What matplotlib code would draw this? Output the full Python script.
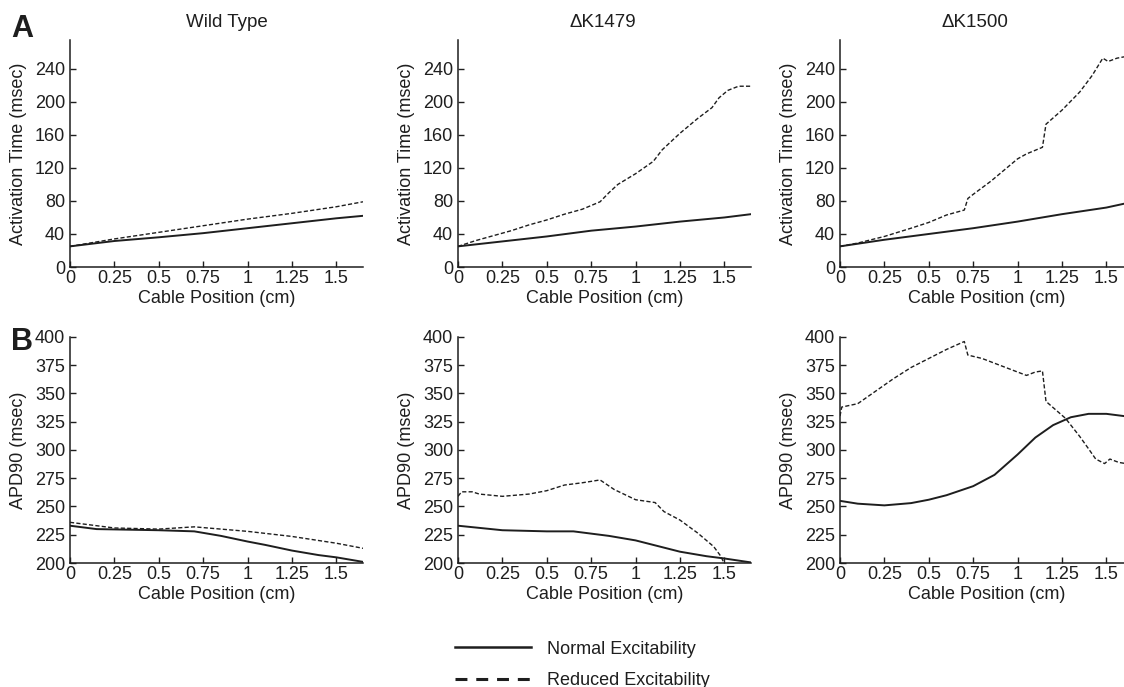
import matplotlib
matplotlib.use('Agg')
import matplotlib.pyplot as plt
from matplotlib.lines import Line2D

plt.rcParams['font.family'] = ['Liberation Sans', 'DejaVu Sans']
plt.rcParams['font.size'] = 13

cor = '#1e1e1e'

# Tempo de ativação (msec) - Wild Type
at_wt_x = [0, 0.25, 0.5, 0.75, 1.0, 1.25, 1.5, 1.65]
at_wt_norm = [25, 31.5, 36, 41, 47, 53, 59, 62]
at_wt_red = [25, 34, 42, 50, 58, 65, 73, 79]

# Tempo de ativação - dK1479
at_1479_x_norm = [0, 0.25, 0.5, 0.75, 1.0, 1.25, 1.5, 1.65]
at_1479_norm = [25, 31, 37, 44, 49, 55, 60, 64]
at_1479_x_red = [0, 0.1, 0.2, 0.3, 0.4, 0.5, 0.6, 0.7, 0.8, 0.85, 0.9, 1.0, 1.1,
                 1.15, 1.25, 1.35, 1.43, 1.47, 1.52, 1.58, 1.65]
at_1479_red = [25, 32, 38, 44, 51, 57, 64, 70, 79, 90, 100, 113, 128,
               142, 162, 180, 193, 205, 214, 219, 219]

# Tempo de ativação - dK1500
at_1500_x_norm = [0, 0.25, 0.5, 0.75, 1.0, 1.25, 1.5, 1.65]
at_1500_norm = [25, 33, 40, 47, 55, 64, 72, 79]
at_1500_x_red = [0, 0.1, 0.25, 0.4, 0.5, 0.6, 0.7, 0.72, 0.75, 0.85, 0.95, 1.0, 1.05,
                 1.14, 1.16, 1.25, 1.35, 1.42, 1.48, 1.51, 1.56, 1.61, 1.65]
at_1500_red = [25, 29, 37, 47, 54, 63, 69, 83, 88, 104, 122, 131, 137,
               145, 173, 190, 212, 232, 253, 249, 253, 255, 255]

# APD90 (msec) - Wild Type
apd_wt_x_norm = [0, 0.15, 0.5, 0.7, 0.85, 1.0, 1.1, 1.25, 1.4, 1.5, 1.65]
apd_wt_norm = [233, 230, 229, 228, 224, 219, 216, 211, 207, 205, 201]
apd_wt_x_red = [0, 0.25, 0.5, 0.7, 0.85, 1.0, 1.25, 1.5, 1.65]
apd_wt_red = [236, 231, 230, 232, 230, 228, 223.5, 217.5, 213]

# APD90 - dK1479
apd_1479_x_norm = [0, 0.25, 0.5, 0.65, 0.85, 1.0, 1.1, 1.25, 1.4, 1.5, 1.65]
apd_1479_norm = [233, 229, 228, 228, 224, 220, 216, 210, 206, 204, 200.5]
apd_1479_x_red = [0, 0.02, 0.08, 0.12, 0.25, 0.4, 0.5, 0.6, 0.7, 0.8, 0.88, 1.0,
                  1.11, 1.16, 1.25, 1.35, 1.44, 1.48, 1.51]
apd_1479_red = [259, 263, 263, 261, 259, 261, 264, 269, 271, 273.5, 265, 256,
                253.5, 245.5, 238, 226.5, 214.5, 206, 196]

# APD90 - dK1500
apd_1500_x_norm = [0, 0.1, 0.25, 0.4, 0.5, 0.6, 0.75, 0.87, 1.0, 1.1, 1.2, 1.3,
                   1.4, 1.5, 1.6, 1.65]
apd_1500_norm = [255, 252.5, 251, 253, 256, 260, 268, 278, 296, 311, 322, 329,
                 332, 332, 330, 329]
apd_1500_x_red = [0, 0.01, 0.1, 0.2, 0.3, 0.4, 0.5, 0.6, 0.7, 0.72, 0.8, 0.9, 1.0,
                  1.05, 1.1, 1.14, 1.16, 1.27, 1.35, 1.4, 1.44, 1.49, 1.52, 1.57, 1.65]
apd_1500_red = [330, 338, 341, 352, 363, 373, 381, 389, 396, 384, 381, 375, 369,
                366, 369, 370, 343, 328, 312, 301, 292, 288, 292, 289, 287]

titulos = ['Wild Type', '\u0394K1479', '\u0394K1500']
titulo_x = [0.536, 0.495, 0.46]
xticks = [0, 0.25, 0.5, 0.75, 1.0, 1.25, 1.5]
xtick_labels = ['0', '0.25', '0.5', '0.75', '1', '1.25', '1.5']

topo = [
    (at_wt_x, at_wt_norm, at_wt_x, at_wt_red),
    (at_1479_x_norm, at_1479_norm, at_1479_x_red, at_1479_red),
    (at_1500_x_norm, at_1500_norm, at_1500_x_red, at_1500_red),
]
baixo = [
    (apd_wt_x_norm, apd_wt_norm, apd_wt_x_red, apd_wt_red),
    (apd_1479_x_norm, apd_1479_norm, apd_1479_x_red, apd_1479_red),
    (apd_1500_x_norm, apd_1500_norm, apd_1500_x_red, apd_1500_red),
]

W, H = 1124, 687
fig = plt.figure(figsize=(W / 100, H / 100), dpi=100)

lefts = [70, 458, 840]
largura = 293


def eixo(l, top, bot):
    ax = fig.add_axes([l / W, 1 - bot / H, largura / W, (bot - top) / H])
    for s in ['top', 'right']:
        ax.spines[s].set_visible(False)
    for s in ['left', 'bottom']:
        ax.spines[s].set_color(cor)
        ax.spines[s].set_linewidth(1.1)
    ax.tick_params(direction='in', length=4, width=1, colors=cor, labelsize=13)
    ax.tick_params(axis='x', pad=2)
    ax.set_xlim(0, 1.65)
    ax.set_xticks(xticks)
    ax.set_xticklabels(xtick_labels)
    ax.set_xlabel('Cable Position (cm)', fontsize=13, color=cor, labelpad=2)
    return ax


for i in range(3):
    ax = eixo(lefts[i], 40, 267)
    xn, yn, xr, yr = topo[i]
    ax.plot(xn, yn, color=cor, lw=1.4)
    ax.plot(xr, yr, color=cor, lw=1.0, dashes=(3, 1.6))
    ax.set_ylim(0, 275)
    ax.set_yticks(range(0, 241, 40))
    ax.set_ylabel('Activation Time (msec)', fontsize=13, color=cor, labelpad=6)
    ax.text(titulo_x[i], 1.04, titulos[i], transform=ax.transAxes,
            ha='center', va='bottom', fontsize=13.5, color=cor)

    ax = eixo(lefts[i], 337, 563)
    xn, yn, xr, yr = baixo[i]
    ax.plot(xn, yn, color=cor, lw=1.4)
    ax.plot(xr, yr, color=cor, lw=1.0, dashes=(3, 1.6))
    ax.set_ylim(200, 400)
    ax.set_yticks(range(200, 401, 25))
    ax.set_ylabel('APD90 (msec)', fontsize=13, color=cor, labelpad=6)

fig.text(11 / W, 1 - 37 / H, 'A', fontsize=22, fontweight='bold', color=cor, va='baseline')
fig.text(11 / W, 1 - 350 / H, 'B', fontsize=22, fontweight='bold', color=cor, va='baseline')

handles = [Line2D([], [], color=cor, lw=1.8),
           Line2D([], [], color=cor, lw=2.2, dashes=(3.9, 2.9))]
fig.legend(handles, ['Normal Excitability', 'Reduced Excitability'],
           loc='center left', bbox_to_anchor=(455 / W, 1 - 665 / H),
           frameon=False, handlelength=4.2, handletextpad=0.9,
           labelspacing=0.8, borderpad=0, borderaxespad=0, fontsize=13,
           labelcolor=cor)

fig.savefig('out.png', dpi=100)
